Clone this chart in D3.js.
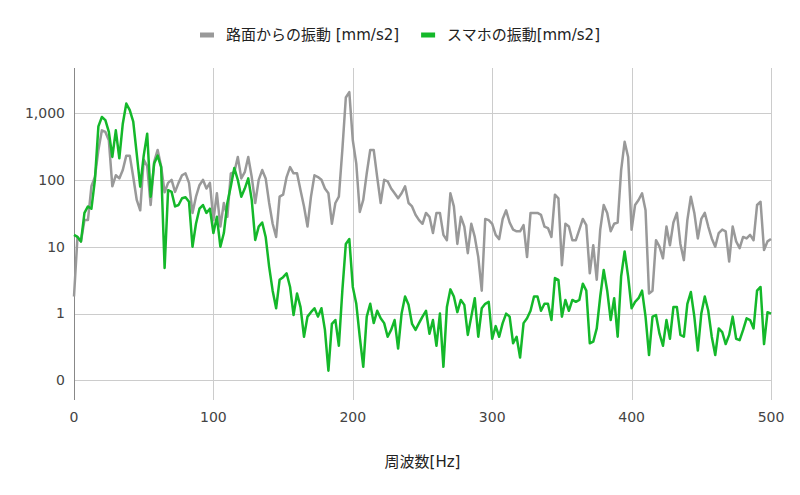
<!DOCTYPE html>
<html>
<head>
<meta charset="utf-8">
<script src="https://cdn.jsdelivr.net/npm/d3@7"></script>
<style>
  html, body { margin: 0; padding: 0; background: #fff; }
  svg text { font-family: "DejaVu Sans", "Noto Sans CJK JP", sans-serif; }
</style>
</head>
<body>
<div id="chart"></div>
<script>
// Series names
const seriesNames = ['路面からの振動 [mm/s2]', 'スマホの振動[mm/s2]'];
const seriesColors = ['#999999', '#14b82a'];

// Frequency bins (Hz), every 2.5 Hz from 0 to 500
const freqStep = 2.5;
const freqMax = 500;

// Road vibration [mm/s2]
const roadValues = [
    1.8, 14, 12, 25, 25, 80, 110, 280, 550, 520,
    390, 80, 117, 105, 140, 230, 230, 110, 50, 35,
    200, 160, 42, 185, 280, 160, 65, 90, 100, 66,
    90, 117, 125, 90, 32, 56, 83, 100, 74, 90,
    25, 63, 20, 45, 28, 125, 130, 220, 105, 130,
    220, 110, 45, 100, 140, 105, 45, 22, 14, 56,
    60, 110, 155, 125, 125, 70, 40, 20, 56, 117,
    110, 100, 74, 63, 22, 45, 56, 280, 1700, 2050,
    390, 175, 33, 50, 125, 280, 280, 110, 45, 100,
    95, 74, 63, 53, 63, 80, 45, 40, 30, 25,
    22, 32, 28, 16, 32, 32, 15, 12.5, 63, 40,
    11, 28, 20, 8, 22, 14, 7, 2.2, 26, 25,
    22, 15, 13, 26, 35, 23, 18, 17, 17, 21,
    7, 32, 32, 32, 30, 20, 19, 14, 60, 53,
    5.3, 22, 20, 12.5, 12.5, 18, 26, 21, 4, 10.5,
    3.2, 18, 42, 32, 17, 22, 23, 140, 370, 220,
    18, 42, 50, 63, 35, 2, 2.2, 12.5, 10, 6.7,
    20, 10.5, 23, 32, 11, 6.3, 25, 56, 32, 13.3,
    26, 32, 20, 13.3, 10, 16, 18, 17, 6, 20,
    12, 9.5, 14, 13.3, 15, 12.5, 42, 47, 8.9, 12,
    13
];

// Smartphone vibration [mm/s2]
const phoneValues = [
    15, 14, 12, 32, 40, 37, 100, 630, 870, 780,
    520, 220, 550, 210, 690, 1380, 1100, 740, 245, 79,
    230, 490, 56, 175, 230, 155, 4.8, 70, 66, 40,
    42, 53, 55, 47, 10, 22, 37, 42, 32, 37,
    16, 28, 10, 16, 45, 80, 150, 100, 56, 74,
    105, 50, 12.6, 20, 23, 14, 5, 2.2, 1.2, 3.2,
    3.5, 4, 2.5, 0.95, 2, 1.25, 0.45, 0.9, 1.05, 1.2,
    0.9, 1.2, 0.57, 0.14, 0.7, 0.8, 0.33, 2.2, 11, 13,
    2.5, 1.4, 0.45, 0.16, 0.9, 1.4, 0.72, 1.1, 0.85, 0.72,
    0.45, 0.57, 0.8, 0.3, 1.0, 1.8, 1.35, 0.7, 0.57, 0.72,
    0.9, 1.1, 0.5, 0.8, 0.33, 1.0, 0.16, 1.25, 2.3, 1.8,
    1.05, 1.6, 1.35, 0.48, 0.9, 1.7, 0.45, 1.2, 1.4, 1.5,
    0.42, 0.65, 0.45, 0.72, 1.0, 0.9, 0.36, 0.45, 0.22, 0.72,
    0.85, 1.1, 1.8, 1.8, 1.1, 1.4, 1.4, 0.8, 3.4, 3.2,
    0.9, 1.6, 1.1, 1.6, 1.5, 1.6, 2.8, 2.2, 0.36, 0.38,
    0.6, 1.8, 4.5, 2.2, 0.8, 1.7, 0.45, 3.6, 8.5, 3.6,
    1.2, 1.5, 1.7, 2.2, 0.9, 0.24, 0.9, 0.95, 0.5, 0.33,
    0.8, 0.42, 1.25, 1.25, 0.48, 0.45, 1.4, 2.1, 0.9, 0.28,
    1.0, 1.8, 1.1, 0.45, 0.24, 0.6, 0.53, 0.35, 0.48, 0.9,
    0.42, 0.4, 0.57, 0.85, 0.8, 0.6, 2.2, 2.5, 0.35, 1.05,
    1.0
];

// Axis ticks
const xTicks = [0, 100, 200, 300, 400, 500];
const yTicks = [0.1, 1, 10, 100, 1000];
const yTickLabels = ['0', '1', '10', '100', '1,000'];
const xTitle = '周波数[Hz]';

// Layout
const width = 800;
const height = 495;
const margin = { top: 68, right: 29, bottom: 95, left: 74 };
const innerW = width - margin.left - margin.right;
const innerH = height - margin.top - margin.bottom;

const svg = d3.select('#chart').append('svg')
    .attr('width', width)
    .attr('height', height);

const x = d3.scaleLinear()
    .domain([0, freqMax])
    .range([margin.left, margin.left + innerW]);

const y = d3.scaleLog()
    .domain([0.051, 4700])
    .range([margin.top + innerH, margin.top]);

// Horizontal gridlines
svg.append('g')
    .selectAll('line')
    .data(yTicks)
    .join('line')
    .attr('x1', margin.left)
    .attr('x2', margin.left + innerW)
    .attr('y1', d => Math.round(y(d)) + 0.5)
    .attr('y2', d => Math.round(y(d)) + 0.5)
    .attr('stroke', '#cccccc')
    .attr('stroke-width', 1);

// Vertical gridlines
svg.append('g')
    .selectAll('line')
    .data(xTicks.slice(1))
    .join('line')
    .attr('x1', d => Math.round(x(d)) + 0.5)
    .attr('x2', d => Math.round(x(d)) + 0.5)
    .attr('y1', margin.top)
    .attr('y2', margin.top + innerH)
    .attr('stroke', '#cccccc')
    .attr('stroke-width', 1);

// Baseline at x = 0
svg.append('line')
    .attr('x1', Math.round(x(0)) + 0.5)
    .attr('x2', Math.round(x(0)) + 0.5)
    .attr('y1', margin.top)
    .attr('y2', margin.top + innerH)
    .attr('stroke', '#888888')
    .attr('stroke-width', 1);

// Y tick labels
svg.append('g')
    .selectAll('text')
    .data(yTicks)
    .join('text')
    .attr('x', margin.left - 9)
    .attr('y', d => y(d))
    .attr('dy', '0.35em')
    .attr('text-anchor', 'end')
    .attr('font-size', 14)
    .attr('fill', '#444444')
    .text((d, i) => yTickLabels[i]);

// X tick labels
svg.append('g')
    .selectAll('text')
    .data(xTicks)
    .join('text')
    .attr('x', d => x(d))
    .attr('y', margin.top + innerH + 22)
    .attr('text-anchor', 'middle')
    .attr('font-size', 14)
    .attr('fill', '#444444')
    .text(d => d);

// X axis title
svg.append('text')
    .attr('x', margin.left + innerW / 2)
    .attr('y', margin.top + innerH + 67)
    .attr('text-anchor', 'middle')
    .attr('font-size', 15)
    .attr('fill', '#222222')
    .text(xTitle);

// Lines
const freqs = d3.range(0, freqMax + freqStep / 2, freqStep);
const line = d3.line()
    .x(d => x(d[0]))
    .y(d => y(d[1]));

[roadValues, phoneValues].forEach((vals, k) => {
    svg.append('path')
        .datum(freqs.map((f, i) => [f, vals[i]]))
        .attr('fill', 'none')
        .attr('stroke', seriesColors[k])
        .attr('stroke-width', 2.5)
        .attr('stroke-linejoin', 'round')
        .attr('d', line);
});

// Legend
const legend = svg.append('g');
const legendY = 35;
let lx = 200;
seriesNames.forEach((name, k) => {
    legend.append('rect')
        .attr('x', lx)
        .attr('y', legendY - 2.5)
        .attr('width', 14)
        .attr('height', 5)
        .attr('fill', seriesColors[k]);
    const t = legend.append('text')
        .attr('x', lx + 26)
        .attr('y', legendY)
        .attr('dy', '0.35em')
        .attr('font-size', 15)
        .attr('fill', '#222222')
        .text(name);
    lx = lx + 26 + t.node().getComputedTextLength() + 22;
});
</script>
</body>
</html>
